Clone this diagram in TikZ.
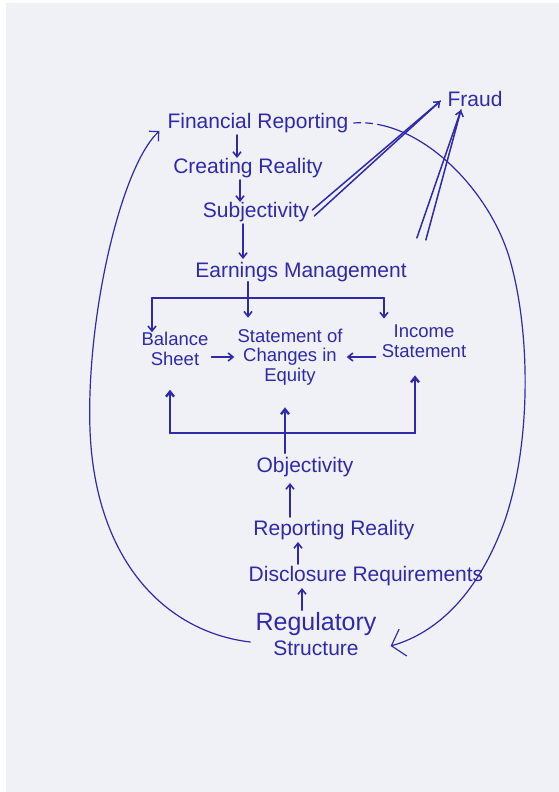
\documentclass[tikz,border=0pt]{standalone}
\usepackage{fontspec}
\setmainfont{Liberation Sans}
\usetikzlibrary{arrows.meta}
\definecolor{ink}{RGB}{48,42,170}
\definecolor{paper}{RGB}{240,241,246}

\begin{document}
\begin{tikzpicture}[x=1pt,y=-1pt,
  lbl/.style={text=ink, inner sep=0pt, font=\fontsize{21}{17}\selectfont, align=center},
  stmt/.style={lbl, font=\fontsize{18.5}{19.5}\selectfont},
  pen/.style={draw=ink, line width=1.6pt, line cap=round, line join=round},
  bar/.style={pen, line width=2.4pt},
  thinpen/.style={draw=ink, line width=1.2pt, line cap=round, line join=round},
  dblpen/.style={draw=ink, line width=1.5pt, line cap=round, line join=round},
  tip/.style={-{Straight Barb[length=5pt,width=8pt]}},
  lefthead/.style={-{Straight Barb[length=7pt,width=14pt]}},
  righthead/.style={-{Straight Barb[length=12pt,width=28pt]}},
]
\useasboundingbox (0,0) rectangle (559,792);
\fill[white] (0,0) rectangle (559,792);
\fill[paper] (6,3) rectangle (559,792);

% concepts
\node[lbl] (fr)    at (258,123) {Financial Reporting};
\node[lbl] (fraud) at (475,99)  {Fraud};
\node[lbl] (cr)    at (248,168) {Creating Reality};
\node[lbl] (subj)  at (256,212) {Subjectivity};
\node[lbl] (em)    at (301,272) {Earnings Management};
\node[stmt] (bs)   at (175,349) {Balance\\Sheet};
\node[stmt] (sce)  at (290,357) {Statement of\\Changes in\\Equity};
\node[stmt] (is)   at (424,341) {Income\\Statement};
\node[lbl] (obj)   at (305,467) {Objectivity};
\node[lbl] (rr)    at (334,530) {Reporting Reality};
\node[lbl] (dr)    at (366,576) {Disclosure Requirements};
\node[lbl, font=\fontsize{21}{25}\selectfont] (rs) at (316,634)
  {{\fontsize{25}{25}\selectfont Regulatory}\\Structure};

% top chain
\draw[pen,tip,shorten <=2pt] ([xshift=-21pt]fr.south) -- ([xshift=-11pt]cr.north);
\draw[pen,tip,shorten <=2pt] ([xshift=-8pt]cr.south) -- ([xshift=-16pt]subj.north);
\draw[pen,tip,shorten <=2pt,shorten >=3pt] ([xshift=-13pt]subj.south) -- ([xshift=-58pt]em.north);

% double arrows to fraud
\coordinate (ft1) at ([shift={(-7,2)}]fraud.west);
\coordinate (ft2) at ([shift={(-14,3)}]fraud.south);
\draw[dblpen] ([shift={(3,-2)}]subj.east) -- (ft1);
\draw[dblpen,tip] ([shift={(5,4)}]subj.east) -- (ft1);
\draw[dblpen] ([shift={(10,-24)}]em.north east) -- (ft2);
\draw[dblpen,tip] ([shift={(19,-22)}]em.north east) -- (ft2);

% distribution from earnings management
\coordinate (bl) at (152,298);
\coordinate (bm) at (248,298);
\coordinate (br) at (384,298);
\draw[bar] (bl) -- (br);
\draw[bar] (em.south -| bm) -- (bm);
\draw[pen,tip,shorten >=11pt] (bm) -- (bm |- sce.north);
\draw[pen,tip] (bl) -- (bl |- bs.north);
\draw[pen,tip,shorten >=6pt] (br) -- (br |- is.north);

% statements into the statement of changes in equity
\draw[pen,tip,shorten <=3pt,shorten >=3pt] (bs.east |- sce.west) -- (sce.west);
\draw[pen,tip,shorten <=6pt,shorten >=4pt] (is.west |- sce.east) -- (sce.east);

% bracket below the statements
\coordinate (ql) at (170,433);
\coordinate (qm) at (285,433);
\coordinate (qr) at (415,433);
\draw[bar] (ql) -- (qr);
\draw[bar,tip,shorten >=24pt] (ql) -- (ql |- bs.south);
\draw[bar,tip,shorten >=18pt] (qr) -- (qr |- is.south);
\draw[bar,tip,shorten <=4pt,shorten >=22pt] (qm |- obj.north) -- (qm |- sce.south);

% bottom chain
\draw[pen,tip,shorten <=3pt,shorten >=6pt] ([xshift=-44pt]rr.north) -- ([xshift=-15pt]obj.south);
\draw[pen,tip,shorten <=2pt,shorten >=2pt] ([xshift=-68pt]dr.north) -- ([xshift=-36pt]rr.south);
\draw[pen,tip,shorten <=2pt,shorten >=2pt] ([xshift=-14pt]rs.north) -- ([xshift=-64pt]dr.south);

% feedback loops
\draw[thinpen,lefthead] ([shift={(-5,8)}]rs.west)
  .. controls (165,632) and (95,560) .. (90,430)
  .. controls (86,320) and (120,168) .. ([shift={(-8,8)}]fr.west);
\draw[thinpen,righthead,dash pattern=on 7pt off 5pt on 7pt off 5pt on 3000pt]
  ([xshift=5pt]fr.east)
  .. controls (420,118) and (490,190) .. (510,260)
  .. controls (530,330) and (532,440) .. (505,520)
  .. controls (480,590) and (440,632) .. ([shift={(14,12)}]rs.east);
\end{tikzpicture}
\end{document}
